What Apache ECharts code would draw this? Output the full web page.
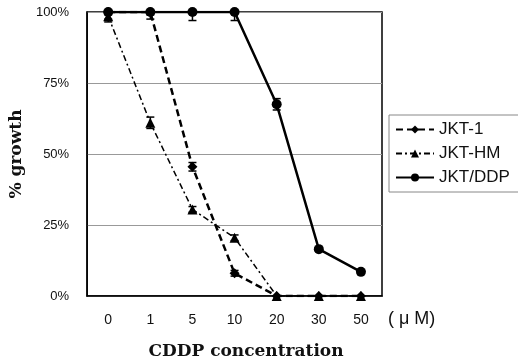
<!DOCTYPE html>
<html>
<head>
<meta charset="utf-8">
<script src="https://cdn.jsdelivr.net/npm/echarts@6/dist/echarts.min.js"></script>
<style>
  html, body { margin: 0; padding: 0; background: #fff; }
  #chart { width: 518px; height: 360px; }
</style>
</head>
<body>
<div id="chart"></div>
<script>
// concentrations (uM)
var categories = ['0', '1', '5', '10', '20', '30', '50'];
var yTicks = [0, 25, 50, 75, 100];

// % growth
var jkt1 = [100, 100, 45.5, 8, 0, 0, 0];
var jktHM = [98.5, 61, 30.5, 20.5, 0, 0, 0];
var jktDDP = [100, 100, 100, 100, 67.5, 16.5, 8.5];

// error (+/-)
var jkt1Err = [1, 1, 1.5, 1, 0, 0, 0];
var jktHMErr = [2, 2, 1, 1, 0, 0, 0];
var jktDDPErr = [2.5, 2.5, 3, 3, 2, 0.5, 0.5];

var chart = echarts.init(document.getElementById('chart'));

function errData(vals, errs) {
  return vals.map(function (v, i) {
    return [i, Math.max(v - errs[i], 0), Math.min(v + errs[i], 100), errs[i]];
  });
}

function errSeries(vals, errs) {
  return {
    type: 'custom',
    silent: true,
    z: 1,
    encode: { x: 0, y: [1, 2] },
    data: errData(vals, errs),
    renderItem: function (params, api) {
      if (api.value(3) <= 0) return;
      var lo = api.coord([api.value(0), api.value(1)]);
      var hi = api.coord([api.value(0), api.value(2)]);
      var w = 4;
      var st = { stroke: '#000', lineWidth: 1.5 };
      return {
        type: 'group',
        children: [
          { type: 'line', shape: { x1: lo[0], y1: lo[1], x2: hi[0], y2: hi[1] }, style: st },
          { type: 'line', shape: { x1: lo[0] - w, y1: lo[1], x2: lo[0] + w, y2: lo[1] }, style: st },
          { type: 'line', shape: { x1: hi[0] - w, y1: hi[1], x2: hi[0] + w, y2: hi[1] }, style: st }
        ]
      };
    }
  };
}

chart.setOption({
  animation: false,
  backgroundColor: '#fff',
  grid: {
    left: 87,
    right: 136,
    top: 12,
    bottom: 64,
    show: true,
    borderColor: '#000',
    borderWidth: 1.5
  },
  title: {
    text: 'CDDP concentration',
    left: 241,
    textAlign: 'center',
    top: 338,
    textStyle: {
      fontFamily: 'DejaVu Serif',
      fontWeight: 'bold',
      fontSize: 17,
      color: '#111'
    }
  },
  graphic: [{
    type: 'text',
    left: 388,
    top: 310,
    style: {
      text: '( \u03bc M)',
      font: '18px "Liberation Sans", Arial',
      fill: '#111'
    }
  }],
  legend: {
    orient: 'vertical',
    left: 389,
    top: 115,
    padding: [6, 12, 6, 6],
    itemGap: 7,
    itemWidth: 38,
    itemHeight: 10,
    borderColor: '#888',
    borderWidth: 1,
    textStyle: { fontSize: 17, color: '#111', fontFamily: 'Liberation Sans' },
    data: ['JKT-1', 'JKT-HM', 'JKT/DDP']
  },
  xAxis: {
    type: 'category',
    data: categories,
    boundaryGap: true,
    axisLine: { lineStyle: { color: '#000', width: 1.5 } },
    axisTick: { inside: true, length: 4, lineStyle: { color: '#555' } },
    axisLabel: { margin: 17, fontSize: 14, color: '#111', fontFamily: 'Liberation Sans' },
    splitLine: { show: false }
  },
  yAxis: {
    type: 'value',
    min: 0,
    max: 100,
    interval: 25,
    name: '% growth',
    nameLocation: 'middle',
    nameRotate: 90,
    nameGap: 55,
    nameTextStyle: {
      fontFamily: 'DejaVu Serif',
      fontWeight: 'bold',
      fontSize: 17,
      color: '#111'
    },
    axisLine: { show: true, lineStyle: { color: '#000', width: 1.5 } },
    axisTick: { show: false },
    axisLabel: {
      margin: 18,
      fontSize: 13,
      color: '#111',
      fontFamily: 'Liberation Sans',
      formatter: function (v) { return yTicks.indexOf(v) >= 0 ? v + '%' : ''; }
    },
    splitLine: { lineStyle: { color: '#999', width: 1 } }
  },
  series: [
    {
      name: 'JKT-1',
      type: 'line',
      data: jkt1,
      symbol: 'diamond',
      symbolSize: 10,
      z: 3,
      itemStyle: { color: '#000' },
      lineStyle: { color: '#000', width: 2.5, type: [7, 4] }
    },
    {
      name: 'JKT-HM',
      type: 'line',
      data: jktHM,
      symbol: 'triangle',
      symbolSize: 10,
      z: 3,
      itemStyle: { color: '#000' },
      lineStyle: { color: '#000', width: 1.5, type: [6, 3, 2, 3] }
    },
    {
      name: 'JKT/DDP',
      type: 'line',
      data: jktDDP,
      symbol: 'circle',
      symbolSize: 10,
      z: 4,
      itemStyle: { color: '#000' },
      lineStyle: { color: '#000', width: 2.5 }
    },
    errSeries(jkt1, jkt1Err),
    errSeries(jktHM, jktHMErr),
    errSeries(jktDDP, jktDDPErr)
  ]
});
</script>
</body>
</html>
